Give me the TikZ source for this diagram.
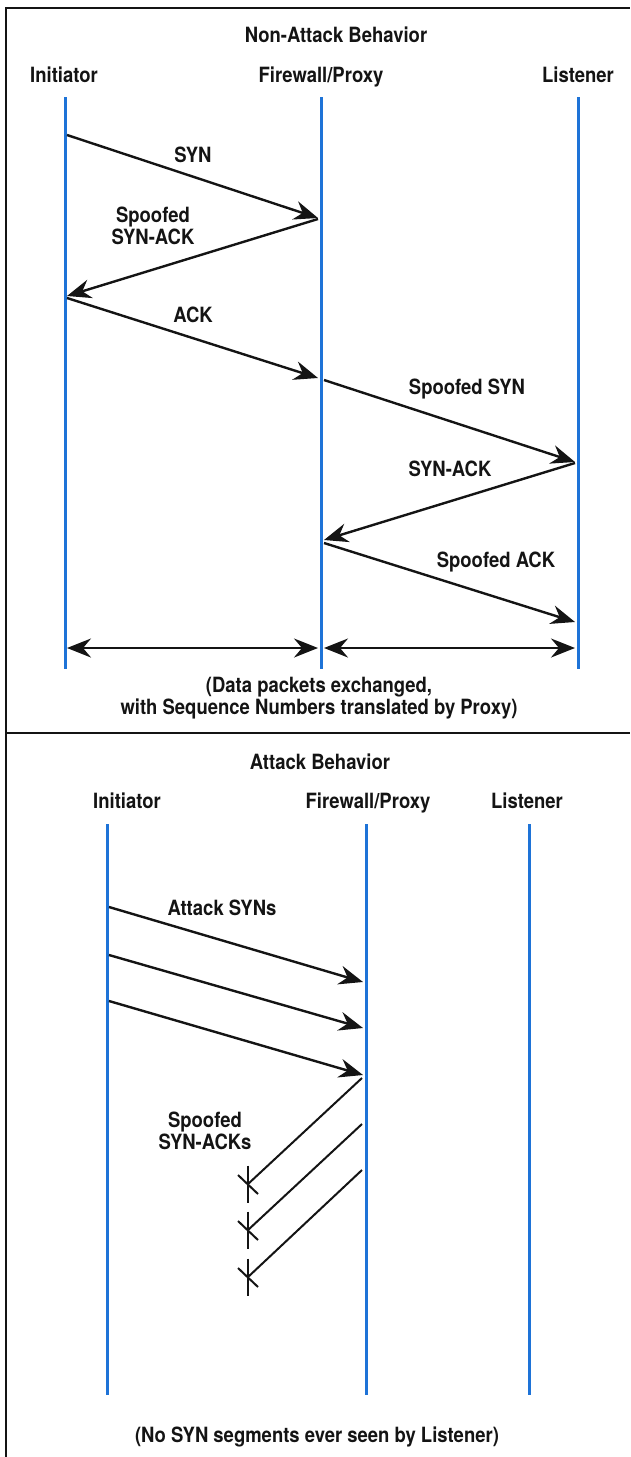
\documentclass[tikz,border=0pt]{standalone}
\usepackage{fontspec}
\newfontfamily\lblfont[FakeStretch=0.88]{TeX Gyre Heros}
\usetikzlibrary{arrows.meta,calc}
\definecolor{lifeblue}{RGB}{30,115,215}
\definecolor{ink}{RGB}{20,20,20}
\tikzset{
  lblfnt/.style={font={\lblfont\bfseries\fontsize{21}{22}\selectfont}, text=ink},
  lbl/.style={lblfnt, inner sep=0pt, anchor=base},
  lbltwo/.style={lblfnt, inner sep=0pt, align=center, anchor=center},
  life/.style={draw=lifeblue, line width=3pt},
  msg/.style={draw=ink, line width=2.4pt, -{Stealth[length=24pt,width=19pt,inset=8pt]}},
  dmsg/.style={draw=ink, line width=2.4pt, {Stealth[length=24pt,width=19pt,inset=8pt]}-{Stealth[length=24pt,width=19pt,inset=8pt]}},
  rej/.style={draw=ink, line width=2pt},
  frame/.style={draw=ink, line width=2.2pt}
}
\begin{document}
\begin{tikzpicture}[x=1pt,y=-1pt]
\useasboundingbox (0,0) rectangle (630,1457);
% frame
\coordinate (fbl) at (6,1457);
\coordinate (ftl) at (6,8);
\coordinate (ftr) at (630,8);
\coordinate (dl) at (6,733);
\coordinate (dr) at (630,733);
\draw[frame] (fbl) -- (ftl) -- (ftr);
\draw[frame] (dl) -- (dr);

% ===== Non-attack =====
\node[lbl] (t1) at (336,42) {Non-Attack Behavior};
\node[lbl] (hI1) at (64,82) {Initiator};
\node[lbl] (hF1) at (321,82) {Firewall/Proxy};
\node[lbl] (hL1) at (578,82) {Listener};

\coordinate (I1t) at (65,97);  \coordinate (I1b) at (65,669);
\coordinate (F1t) at (321,97); \coordinate (F1b) at (321,669);
\coordinate (L1t) at (578,97); \coordinate (L1b) at (578,669);
\draw[life] (I1t) -- (I1b);
\draw[life] (F1t) -- (F1b);
\draw[life] (L1t) -- (L1b);

\coordinate (a1s) at (67,135);  \coordinate (a1e) at (318,218);
\coordinate (a2s) at (318,219); \coordinate (a2e) at (67,296);
\coordinate (a3s) at (67,298);  \coordinate (a3e) at (318,378);
\coordinate (a4s) at (324,380); \coordinate (a4e) at (575,462);
\coordinate (a5s) at (575,463); \coordinate (a5e) at (324,540);
\coordinate (a6s) at (324,543); \coordinate (a6e) at (575,622);
\draw[msg] (a1s) -- (a1e);
\draw[msg] (a2s) -- (a2e);
\draw[msg] (a3s) -- (a3e);
\draw[msg] (a4s) -- (a4e);
\draw[msg] (a5s) -- (a5e);
\draw[msg] (a6s) -- (a6e);

\coordinate (d1s) at (67,648);  \coordinate (d1e) at (318,648);
\coordinate (d2s) at (324,648); \coordinate (d2e) at (575,648);
\draw[dmsg] (d1s) -- (d1e);
\draw[dmsg] (d2s) -- (d2e);

\node[lbl] (lSYN) at (193,162) {SYN};
\node[lbltwo] (lSSA) at (153,226) {Spoofed\\SYN-ACK};
\node[lbl] (lACK) at (193,322) {ACK};
\node[lbl] (lSS) at (467,394) {Spoofed SYN};
\node[lbl] (lSA) at (450,476) {SYN-ACK};
\node[lbl] (lSACK) at (496,567) {Spoofed ACK};
\node[lbltwo] (cap1) at (319,698) {(Data packets exchanged,\\with Sequence Numbers translated by Proxy)};

% ===== Attack =====
\node[lbl] (t2) at (320,769) {Attack Behavior};
\node[lbl] (hI2) at (127,808) {Initiator};
\node[lbl] (hF2) at (368,808) {Firewall/Proxy};
\node[lbl] (hL2) at (527,808) {Listener};

\coordinate (I2t) at (107,824); \coordinate (I2b) at (107,1395);
\coordinate (F2t) at (366,824); \coordinate (F2b) at (366,1395);
\coordinate (L2t) at (529,824); \coordinate (L2b) at (529,1395);
\draw[life] (I2t) -- (I2b);
\draw[life] (F2t) -- (F2b);
\draw[life] (L2t) -- (L2b);

\coordinate (b1s) at (109,907);  \coordinate (b1e) at (363,982);
\coordinate (b2s) at (109,955);  \coordinate (b2e) at (363,1028);
\coordinate (b3s) at (109,1001); \coordinate (b3e) at (363,1075);
\draw[msg] (b1s) -- (b1e);
\draw[msg] (b2s) -- (b2e);
\draw[msg] (b3s) -- (b3e);
\node[lbl] (lAS) at (222,915) {Attack SYNs};

\coordinate (r1s) at (362,1078); \coordinate (r1e) at (248,1184);
\coordinate (r2s) at (362,1124); \coordinate (r2e) at (248,1230);
\coordinate (r3s) at (362,1170); \coordinate (r3e) at (248,1277);
\foreach \r in {r1,r2,r3}{
  \draw[rej] (\r s) -- (\r e);
  \draw[rej] ($(\r e)+(0,-18.5)$) -- ($(\r e)+(0,18.5)$);
  \draw[rej] ($(\r e)+(-10,-9)$) -- ($(\r e)+(10,10)$);
}
\node[lbltwo] (lSSAs) at (205,1131) {Spoofed\\SYN-ACKs};

\node[lbl] (cap2) at (317,1442) {(No SYN segments ever seen by Listener)};
\end{tikzpicture}
\end{document}
